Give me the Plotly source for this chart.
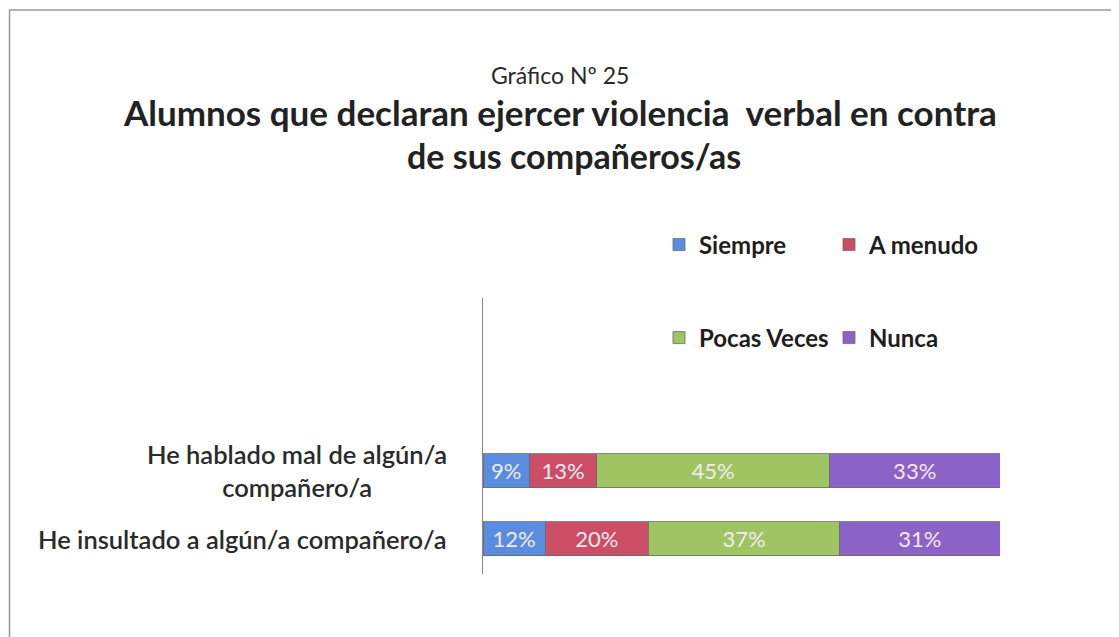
import plotly.graph_objects as go

categories = ["He insultado a algún/a compañero/a", "He hablado mal de algún/a<br>compañero/a"]
series_names = ["Siempre", "A menudo", "Pocas Veces", "Nunca"]
siempre = [12, 9]
a_menudo = [20, 13]
pocas_veces = [37, 45]
nunca = [31, 33]
series_values = [siempre, a_menudo, pocas_veces, nunca]
colors = ["#5a8de0", "#cc4d66", "#9fc562", "#8b62c8"]
legend_ids = ["legend", "legend", "legend2", "legend2"]

FONT = "Lato, Open Sans, sans-serif"
OFF = 8  # page body margin
W, H = 1119 - OFF, 637 - OFF
L, T = 483 - OFF, 298 - OFF
R, B = W - (1000 - OFF), H - (574 - OFF)
PW, PH = W - L - R, H - T - B


def px_x(x):
    return (x - OFF - L) / PW


def px_y(y):
    return (H - B - (y - OFF)) / PH


fig = go.Figure()
for name, vals, col, lg in zip(series_names, series_values, colors, legend_ids):
    fig.add_trace(go.Bar(
        y=categories, x=vals, name=name, orientation="h",
        marker=dict(color=col, line=dict(color="#6a6a6a", width=0.8)),
        text=[f"{v}%" for v in vals], textposition="inside", insidetextanchor="middle",
        textfont=dict(family=FONT, size=22, color="#f4eaf0"),
        width=0.5, legend=lg,
    ))

legend_common = dict(orientation="h", xanchor="left", yanchor="middle",
                     entrywidth=125, entrywidthmode="pixels", itemwidth=30,
                     font=dict(size=24, color="#1e1e1e", family=FONT, weight=700),
                     bgcolor="rgba(0,0,0,0)", traceorder="normal")

fig.update_layout(
    barmode="stack",
    width=W, height=H,
    margin=dict(l=L, r=R, t=T, b=B, autoexpand=False),
    plot_bgcolor="white", paper_bgcolor="white",
    font=dict(family=FONT, color="#2a2a2a"),
    showlegend=True,
    legend=dict(x=px_x(659), y=px_y(245), **legend_common),
    legend2=dict(x=px_x(659), y=px_y(338), **legend_common),
    xaxis=dict(range=[0, 100], visible=False, fixedrange=True),
    yaxis=dict(type="category", categoryorder="array", categoryarray=categories,
               range=[-0.515, 3.54], showline=True, linecolor="#888", linewidth=1,
               showgrid=False, zeroline=False, ticks="", showticklabels=False,
               automargin=False),
)

# category labels (centered multi-line, right edge near the axis)
for cat in categories:
    fig.add_annotation(text=cat, xref="paper", yref="y", x=px_x(449), y=cat,
                       xanchor="right", yanchor="middle", align="center", showarrow=False,
                       font=dict(size=25.5, color="#2a2a2a", family=FONT, weight=600))

fig.add_annotation(text="Gráfico Nº 25", xref="paper", yref="paper",
                   x=px_x(560), y=px_y(75), xanchor="center", yanchor="middle",
                   showarrow=False, font=dict(size=23, color="#2a2a2a", family=FONT))
fig.add_annotation(text="<b>Alumnos que declaran ejercer violencia  verbal en contra</b>",
                   xref="paper", yref="paper", x=px_x(560), y=px_y(112),
                   xanchor="center", yanchor="middle", showarrow=False,
                   font=dict(size=35, color="#222", family=FONT))
fig.add_annotation(text="<b>de sus compañeros/as</b>",
                   xref="paper", yref="paper", x=px_x(574), y=px_y(156),
                   xanchor="center", yanchor="middle", showarrow=False,
                   font=dict(size=34, color="#222", family=FONT))

# outer frame
fig.add_shape(type="rect", xref="paper", yref="paper",
              x0=px_x(9.5), x1=px_x(1116), y0=px_y(650), y1=px_y(10),
              line=dict(color="#9a9a9a", width=1.5), layer="below")

fig.write_html("out.html")
